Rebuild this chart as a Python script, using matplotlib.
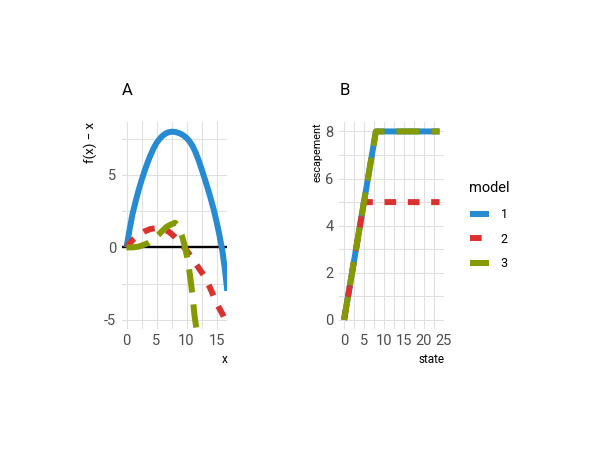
import matplotlib
matplotlib.use("Agg")
import matplotlib.pyplot as plt
from matplotlib.lines import Line2D
from matplotlib.ticker import MultipleLocator

plt.rcParams['font.family'] = ['Roboto', 'DejaVu Sans']
plt.rcParams['axes.unicode_minus'] = False
plt.rcParams['lines.scale_dashes'] = False

# ---------------- data ----------------
models = ['1', '2', '3']
colors = ['#268bd2', '#dc322f', '#859900']

# Panel A: f(x) - x for each model
xA1 = [0, 0.5, 1, 1.5, 2, 2.5, 3, 3.5, 4, 4.5, 5, 5.5, 6, 6.5, 7, 7.5, 8, 8.5,
       9, 9.5, 10, 10.5, 11, 11.5, 12, 12.5, 13, 13.5, 14, 14.5, 15, 15.5, 16,
       16.4, 16.8]
yA1 = [0, 1.2, 2.3, 3.14, 3.92, 4.62, 5.25, 5.84, 6.36, 6.82, 7.2, 7.48, 7.7,
       7.85, 7.94, 7.98, 7.97, 7.92, 7.84, 7.72, 7.55, 7.32, 7.0, 6.57, 6.03,
       5.42, 4.78, 4.12, 3.42, 2.66, 1.8, 0.82, -0.3, -1.52, -3.0]
xA2 = [0, 1, 2, 3, 4, 5, 6, 7, 8, 9, 10, 11, 12, 13, 14, 15, 16, 16.8]
yA2 = [0, 0.5, 0.85, 1.1, 1.27, 1.33, 1.25, 1.1, 0.75, 0.3, -0.2, -0.8, -1.4,
       -2.0, -2.85, -3.85, -4.6, -5.3]
xA3 = [0, 1, 2, 3, 3.6, 4.5, 5.3, 6.0, 6.7, 7.5, 8.1, 8.6, 9.2, 9.7, 10.27,
       10.7, 11.05, 11.33, 11.65, 11.9]
yA3 = [0, 0.0, 0.05, 0.2, 0.3, 0.55, 0.86, 1.15, 1.43, 1.6, 1.7, 1.5, 0.86,
       0.12, -1.0, -2.3, -3.5, -4.7, -5.6, -6.4]

# Panel B: escapement vs state
stateB1 = [0, 8, 24]
escB1 = [0, 8, 8]
stateB2 = [0, 5, 24]
escB2 = [0, 5, 5]
stateB3 = [0, 8, 24]
escB3 = [0, 8, 8]

xA = [xA1, xA2, xA3]
yA = [yA1, yA2, yA3]
xB = [stateB1, stateB2, stateB3]
yB = [escB1, escB2, escB3]

# ---------------- styling ----------------
LW = 4.3
dash_styles = [None, (0, (8.4, 8.4)), (0, (16.8, 8.6))]
grid_col = '#e0e0e0'
tick_col = '#4d4d4d'

W, H = 600, 450
fig = plt.figure(figsize=(6, 4.5), dpi=100)


def px_axes(left, top, right, bottom):
    return fig.add_axes([left / W, 1 - bottom / H, (right - left) / W, (bottom - top) / H])


def style(ax):
    for s in ax.spines.values():
        s.set_visible(False)
    ax.tick_params(which='both', length=0, labelsize=10.5, colors=tick_col)
    ax.tick_params(axis='y', pad=4)
    ax.tick_params(axis='x', pad=3.4)
    ax.grid(which='both', color=grid_col, lw=0.8)
    ax.set_axisbelow(True)


def draw(ax, xs, ys):
    for i in range(3):
        kw = dict(color=colors[i], lw=LW, solid_capstyle='butt', dash_capstyle='butt',
                  solid_joinstyle='round', dash_joinstyle='round', zorder=3 + i)
        if dash_styles[i] is not None:
            kw['linestyle'] = dash_styles[i]
        ax.plot(xs[i], ys[i], label=models[i], **kw)


axA = px_axes(121.7, 122, 227.3, 329.3)
style(axA)
axA.axhline(0, color='black', lw=1.7, zorder=2)
draw(axA, xA, yA)
axA.set_xlim(-0.8, 16.8)
axA.set_ylim(-5.65, 8.65)
axA.xaxis.set_major_locator(MultipleLocator(5))
axA.xaxis.set_minor_locator(MultipleLocator(2.5))
axA.yaxis.set_major_locator(MultipleLocator(5))
axA.yaxis.set_minor_locator(MultipleLocator(2.5))
axA.set_title('A', loc='left', fontsize=12, pad=19.5)
axA.set_xlabel('x', loc='right', fontsize=8.5, va='baseline')
axA.xaxis.set_label_coords(1.0, -(363.3 - 329.3) / 207.3)
axA.set_ylabel('f(x) \u2212 x', loc='top', fontsize=9.5)
axA.yaxis.set_label_coords((97.5 - 121.7) / 105.6, 1.0)

axB = px_axes(339.3, 122, 444.3, 329.3)
style(axB)
draw(axB, xB, yB)
axB.set_xlim(-1.2, 25.2)
axB.set_ylim(-0.4, 8.4)
axB.xaxis.set_major_locator(MultipleLocator(5))
axB.xaxis.set_minor_locator(MultipleLocator(2.5))
axB.yaxis.set_major_locator(MultipleLocator(2))
axB.yaxis.set_minor_locator(MultipleLocator(1))
axB.set_title('B', loc='left', fontsize=12, pad=19.5)
axB.set_xlabel('state', loc='right', fontsize=8.5, va='baseline')
axB.xaxis.set_label_coords(1.0, -(363.3 - 329.3) / 207.3)
axB.set_ylabel('escapement', loc='top', fontsize=7.8)
axB.yaxis.set_label_coords((322.5 - 339.3) / 105.0, 1.0)

# legend
fig.text(468.5 / W, 1 - 191.7 / H, 'model', fontsize=10.5, va='baseline', ha='left')
handles = []
for i in range(3):
    kw = dict(color=colors[i], lw=LW, solid_capstyle='butt', dash_capstyle='butt')
    if dash_styles[i] is not None:
        kw['linestyle'] = dash_styles[i]
    handles.append(Line2D([], [], **kw))
leg = fig.legend(handles, models, loc='upper left',
                 bbox_to_anchor=(470 / W, 1 - 208 / H), frameon=False,
                 fontsize=9, handlelength=1.5,
                 handletextpad=0.95, labelspacing=0.93, borderpad=0,
                 borderaxespad=0)

fig.savefig('out.png', dpi=100)
